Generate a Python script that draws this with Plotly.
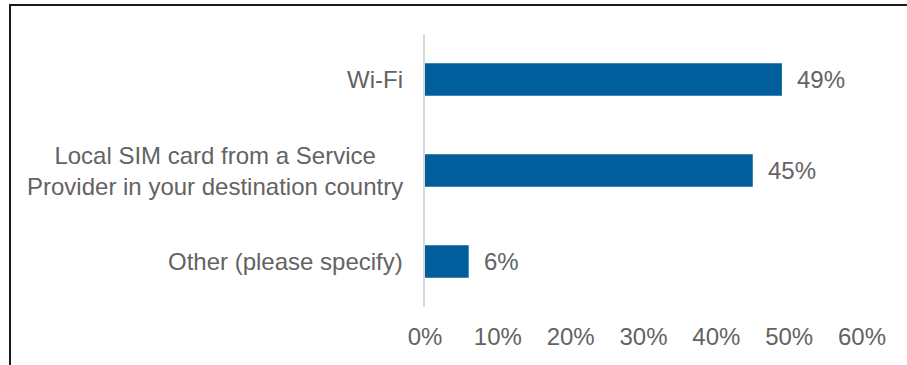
import plotly.graph_objects as go

# Survey answers and their share of respondents (%)
categories = [
    "Wi-Fi",
    "Local SIM card from a Service<br>Provider in your destination country",
    "Other (please specify)",
]
shares = [49, 45, 6]
tick_values = [0, 10, 20, 30, 40, 50, 60]
tick_labels = ["0%", "10%", "20%", "30%", "40%", "50%", "60%"]

BAR_BLUE = "#005E9C"
TEXT_GREY = "#636363"
FONT = "Liberation Sans, Arial, sans-serif"
FS = 24

W, H = 907, 365
L, R, T, B = 425, 45, 34, 57.5

fig = go.Figure(
    go.Bar(
        x=shares,
        y=categories,
        orientation="h",
        marker=dict(color=BAR_BLUE, line=dict(width=0)),
        hoverinfo="skip",
    )
)

# value labels to the right of each bar
for cat, val in zip(categories, shares):
    fig.add_annotation(
        x=val, y=cat, xref="x", yref="y",
        text=f"{val}%", showarrow=False,
        xanchor="left", yanchor="middle", xshift=13,
        font=dict(family=FONT, size=FS, color=TEXT_GREY),
    )

# category labels: right-aligned to the axis, lines centred within each label
for cat in categories:
    fig.add_annotation(
        x=0, y=cat, xref="paper", yref="y",
        text=cat, showarrow=False, align="center",
        xanchor="right", yanchor="middle", xshift=-20,
        font=dict(family=FONT, size=FS, color=TEXT_GREY),
    )

# outer frame around the chart (extends past the right and bottom edges)
pw = W - L - R
ph = H - T - B
def px_x(v):
    return (v - L) / pw
def px_y(v):
    return (H - B - v) / ph

fig.add_shape(
    type="rect", xref="paper", yref="paper",
    x0=px_x(10), x1=px_x(W + 20), y0=px_y(H + 20), y1=px_y(5),
    line=dict(color="#1a1a1a", width=2), fillcolor="rgba(0,0,0,0)",
    layer="above",
)

fig.update_layout(
    width=W, height=H,
    margin=dict(l=L, r=R, t=T, b=B, pad=0),
    paper_bgcolor="white", plot_bgcolor="white",
    bargap=0.645,
    showlegend=False,
    font=dict(family=FONT, size=FS, color=TEXT_GREY),
    xaxis=dict(
        range=[0, 60],
        tickvals=tick_values, ticktext=tick_labels,
        showgrid=False, zeroline=False, showline=False,
        ticks="", ticklabelstandoff=13,
        tickfont=dict(family=FONT, size=FS, color=TEXT_GREY),
        fixedrange=True,
    ),
    yaxis=dict(
        autorange="reversed",
        showgrid=False, zeroline=False,
        showline=True, linecolor="#D9D9D9", linewidth=2,
        ticks="", showticklabels=False,
        fixedrange=True,
    ),
)

fig.write_html("out.html")
